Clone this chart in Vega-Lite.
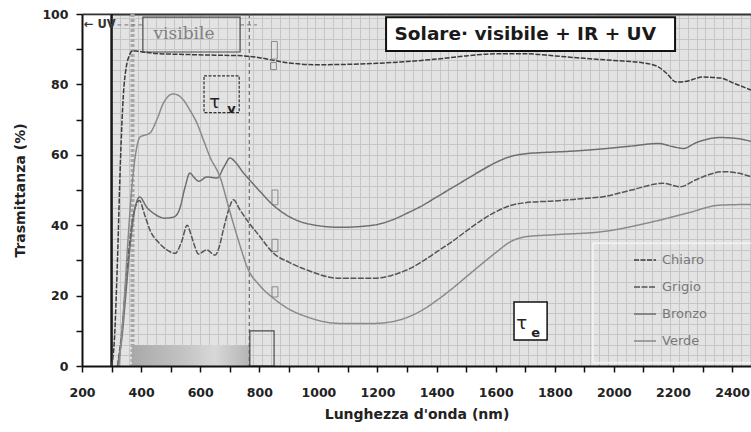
{
  "$schema": "https://vega.github.io/schema/vega-lite/v6.json",
  "width": 669,
  "height": 352,
  "autosize": "none",
  "padding": {"left": 82, "top": 14, "right": 0, "bottom": 66},
  "background": "white",
  "config": {"view": {"fill": "#e3e3e3", "stroke": null}, "font": "DejaVu Sans"},
  "resolve": {"axis": {"x": "independent", "y": "independent"}},
  "datasets": {
    "curves": [
      {"s":"Chiaro","nm":300,"t":0},{"s":"Chiaro","nm":310,"t":8},{"s":"Chiaro","nm":320,"t":30},{"s":"Chiaro","nm":330,"t":58},{"s":"Chiaro","nm":340,"t":77},{"s":"Chiaro","nm":350,"t":85},{"s":"Chiaro","nm":360,"t":88.2},{"s":"Chiaro","nm":372,"t":89.6},{"s":"Chiaro","nm":390,"t":89.4},{"s":"Chiaro","nm":450,"t":88.8},{"s":"Chiaro","nm":550,"t":88.5},{"s":"Chiaro","nm":650,"t":88.3},{"s":"Chiaro","nm":750,"t":88.1},{"s":"Chiaro","nm":800,"t":87.6},{"s":"Chiaro","nm":850,"t":86.8},{"s":"Chiaro","nm":900,"t":86.1},{"s":"Chiaro","nm":1000,"t":85.6},{"s":"Chiaro","nm":1100,"t":85.7},{"s":"Chiaro","nm":1200,"t":86.0},{"s":"Chiaro","nm":1300,"t":86.5},{"s":"Chiaro","nm":1400,"t":87.2},{"s":"Chiaro","nm":1500,"t":88.1},{"s":"Chiaro","nm":1600,"t":88.7},{"s":"Chiaro","nm":1700,"t":88.7},{"s":"Chiaro","nm":1800,"t":88.1},{"s":"Chiaro","nm":1900,"t":87.4},{"s":"Chiaro","nm":2000,"t":86.8},{"s":"Chiaro","nm":2100,"t":86.1},{"s":"Chiaro","nm":2150,"t":85.0},{"s":"Chiaro","nm":2180,"t":83.0},{"s":"Chiaro","nm":2210,"t":80.7},{"s":"Chiaro","nm":2240,"t":80.8},{"s":"Chiaro","nm":2300,"t":82.1},{"s":"Chiaro","nm":2360,"t":81.8},{"s":"Chiaro","nm":2410,"t":80.2},{"s":"Chiaro","nm":2464,"t":78.4},
      {"s":"Grigio","nm":320,"t":0},{"s":"Grigio","nm":335,"t":10},{"s":"Grigio","nm":350,"t":25},{"s":"Grigio","nm":365,"t":38},{"s":"Grigio","nm":380,"t":45},{"s":"Grigio","nm":395,"t":47},{"s":"Grigio","nm":410,"t":43.5},{"s":"Grigio","nm":430,"t":38.6},{"s":"Grigio","nm":460,"t":35},{"s":"Grigio","nm":487,"t":33},{"s":"Grigio","nm":515,"t":32},{"s":"Grigio","nm":537,"t":35.3},{"s":"Grigio","nm":556,"t":40},{"s":"Grigio","nm":570,"t":37},{"s":"Grigio","nm":582,"t":33.9},{"s":"Grigio","nm":594,"t":31.8},{"s":"Grigio","nm":622,"t":33},{"s":"Grigio","nm":650,"t":31.5},{"s":"Grigio","nm":665,"t":34},{"s":"Grigio","nm":678,"t":38.6},{"s":"Grigio","nm":695,"t":44},{"s":"Grigio","nm":712,"t":47.2},{"s":"Grigio","nm":735,"t":44.3},{"s":"Grigio","nm":762,"t":41},{"s":"Grigio","nm":800,"t":37},{"s":"Grigio","nm":847,"t":32.1},{"s":"Grigio","nm":900,"t":29.5},{"s":"Grigio","nm":960,"t":27.3},{"s":"Grigio","nm":1073,"t":24.9},{"s":"Grigio","nm":1186,"t":24.9},{"s":"Grigio","nm":1250,"t":25.8},{"s":"Grigio","nm":1300,"t":27.3},{"s":"Grigio","nm":1350,"t":29.6},{"s":"Grigio","nm":1400,"t":32.4},{"s":"Grigio","nm":1450,"t":35.2},{"s":"Grigio","nm":1500,"t":38.3},{"s":"Grigio","nm":1550,"t":41.3},{"s":"Grigio","nm":1600,"t":43.8},{"s":"Grigio","nm":1650,"t":45.6},{"s":"Grigio","nm":1700,"t":46.4},{"s":"Grigio","nm":1800,"t":46.9},{"s":"Grigio","nm":1900,"t":47.6},{"s":"Grigio","nm":1964,"t":48.1},{"s":"Grigio","nm":2060,"t":50},{"s":"Grigio","nm":2166,"t":51.9},{"s":"Grigio","nm":2224,"t":50.9},{"s":"Grigio","nm":2280,"t":53},{"s":"Grigio","nm":2370,"t":55.2},{"s":"Grigio","nm":2420,"t":54.8},{"s":"Grigio","nm":2464,"t":53.8},
      {"s":"Bronzo","nm":320,"t":0},{"s":"Bronzo","nm":335,"t":8},{"s":"Bronzo","nm":350,"t":22},{"s":"Bronzo","nm":365,"t":36},{"s":"Bronzo","nm":380,"t":45},{"s":"Bronzo","nm":395,"t":48},{"s":"Bronzo","nm":420,"t":45},{"s":"Bronzo","nm":445,"t":43.2},{"s":"Bronzo","nm":480,"t":42},{"s":"Bronzo","nm":510,"t":42.3},{"s":"Bronzo","nm":530,"t":44.5},{"s":"Bronzo","nm":549,"t":50.9},{"s":"Bronzo","nm":565,"t":54.8},{"s":"Bronzo","nm":580,"t":53.5},{"s":"Bronzo","nm":595,"t":52.5},{"s":"Bronzo","nm":623,"t":53.7},{"s":"Bronzo","nm":657,"t":53.4},{"s":"Bronzo","nm":680,"t":56.5},{"s":"Bronzo","nm":701,"t":59.1},{"s":"Bronzo","nm":720,"t":57.8},{"s":"Bronzo","nm":745,"t":55},{"s":"Bronzo","nm":768,"t":52.8},{"s":"Bronzo","nm":800,"t":49.8},{"s":"Bronzo","nm":847,"t":45.7},{"s":"Bronzo","nm":900,"t":42.5},{"s":"Bronzo","nm":960,"t":40.5},{"s":"Bronzo","nm":1073,"t":39.4},{"s":"Bronzo","nm":1185,"t":40},{"s":"Bronzo","nm":1250,"t":41.5},{"s":"Bronzo","nm":1300,"t":43.4},{"s":"Bronzo","nm":1350,"t":45.5},{"s":"Bronzo","nm":1400,"t":48},{"s":"Bronzo","nm":1450,"t":50.5},{"s":"Bronzo","nm":1500,"t":53},{"s":"Bronzo","nm":1550,"t":55.5},{"s":"Bronzo","nm":1600,"t":57.8},{"s":"Bronzo","nm":1650,"t":59.5},{"s":"Bronzo","nm":1700,"t":60.3},{"s":"Bronzo","nm":1750,"t":60.6},{"s":"Bronzo","nm":1851,"t":61.0},{"s":"Bronzo","nm":1950,"t":61.6},{"s":"Bronzo","nm":2050,"t":62.4},{"s":"Bronzo","nm":2150,"t":63.2},{"s":"Bronzo","nm":2200,"t":62.3},{"s":"Bronzo","nm":2235,"t":61.8},{"s":"Bronzo","nm":2280,"t":63.5},{"s":"Bronzo","nm":2359,"t":64.9},{"s":"Bronzo","nm":2420,"t":64.6},{"s":"Bronzo","nm":2464,"t":63.8},
      {"s":"Verde","nm":325,"t":0},{"s":"Verde","nm":340,"t":15},{"s":"Verde","nm":355,"t":35},{"s":"Verde","nm":370,"t":52},{"s":"Verde","nm":385,"t":62},{"s":"Verde","nm":396,"t":65},{"s":"Verde","nm":430,"t":66.2},{"s":"Verde","nm":453,"t":69.9},{"s":"Verde","nm":475,"t":74.6},{"s":"Verde","nm":509,"t":77.3},{"s":"Verde","nm":543,"t":75.6},{"s":"Verde","nm":565,"t":72.7},{"s":"Verde","nm":589,"t":69.0},{"s":"Verde","nm":611,"t":64.2},{"s":"Verde","nm":633,"t":59.4},{"s":"Verde","nm":667,"t":53.7},{"s":"Verde","nm":700,"t":44},{"s":"Verde","nm":730,"t":35.5},{"s":"Verde","nm":762,"t":27.5},{"s":"Verde","nm":800,"t":23},{"s":"Verde","nm":847,"t":19.3},{"s":"Verde","nm":900,"t":16.2},{"s":"Verde","nm":960,"t":14},{"s":"Verde","nm":1073,"t":12.1},{"s":"Verde","nm":1186,"t":12.1},{"s":"Verde","nm":1250,"t":12.6},{"s":"Verde","nm":1300,"t":13.8},{"s":"Verde","nm":1350,"t":15.8},{"s":"Verde","nm":1400,"t":18.6},{"s":"Verde","nm":1450,"t":21.8},{"s":"Verde","nm":1500,"t":25.3},{"s":"Verde","nm":1550,"t":28.8},{"s":"Verde","nm":1600,"t":32.2},{"s":"Verde","nm":1650,"t":35.3},{"s":"Verde","nm":1700,"t":36.7},{"s":"Verde","nm":1800,"t":37.3},{"s":"Verde","nm":1964,"t":38.2},{"s":"Verde","nm":2133,"t":41},{"s":"Verde","nm":2247,"t":43.4},{"s":"Verde","nm":2359,"t":45.7},{"s":"Verde","nm":2464,"t":45.9}
    ]
  },
  "layer": [
    {
      "data": {"values": [{"x": 200, "x2": 300, "y": 0, "y2": 99.6}]},
      "mark": {"type": "rect", "fill": "white"},
      "encoding": {
        "x": {"field": "x", "type": "quantitative", "scale": {"domain": [200, 2464], "nice": false, "zero": false},
          "axis": {"orient": "top", "grid": true, "gridColor": "#c6c6c6", "gridWidth": 1, "labels": false, "ticks": false, "domain": true, "domainColor": "#333", "domainWidth": 2, "title": null, "zindex": 0,
            "values": [300,330,360,390,420,450,480,510,540,570,600,630,660,690,720,750,780,810,840,870,900,930,960,990,1020,1050,1080,1110,1140,1170,1200,1230,1260,1290,1320,1350,1380,1410,1440,1470,1500,1530,1560,1590,1620,1650,1680,1710,1740,1770,1800,1830,1860,1890,1920,1950,1980,2010,2040,2070,2100,2130,2160,2190,2220,2250,2280,2310,2340,2370,2400,2430,2460]}},
        "x2": {"field": "x2"},
        "y": {"field": "y", "type": "quantitative", "scale": {"domain": [0, 100], "nice": false, "zero": false},
          "axis": {"orient": "right", "grid": true, "gridColor": "#c6c6c6", "gridWidth": 1, "labels": false, "ticks": false, "domain": false, "title": null, "zindex": 0,
            "values": [3,6,9,12,15,18,21,24,27,30,33,36,39,42,45,48,51,54,57,60,63,66,69,72,75,78,81,84,87,90,93,96,99]}},
        "y2": {"field": "y2"}
      }
    },
    {
      "data": {"values": [{"x": 369, "x2": 768, "y": 0, "y2": 6}]},
      "mark": {"type": "rect", "fill": {"gradient": "linear", "x1": 0, "y1": 0, "x2": 1, "y2": 0, "stops": [{"offset": 0, "color": "#a9a9a9"}, {"offset": 0.45, "color": "#c4c4c4"}, {"offset": 0.7, "color": "#d8d8d8"}, {"offset": 1, "color": "#b4b4b4"}]}},
      "encoding": {
        "x": {"field": "x", "type": "quantitative", "axis": null, "scale": {"domain": [200, 2464], "nice": false, "zero": false}},
        "x2": {"field": "x2"},
        "y": {"field": "y", "type": "quantitative", "axis": null, "scale": {"domain": [0, 100], "nice": false, "zero": false}},
        "y2": {"field": "y2"}
      }
    },
    {
      "data": {"values": [{"x": 1929, "x2": 2470, "y": 0.9, "y2": 34.9}]},
      "mark": {"type": "rect", "fill": null, "stroke": "#f4f4f4", "strokeWidth": 1.5},
      "encoding": {
        "x": {"field": "x", "type": "quantitative", "axis": null, "scale": {"domain": [200, 2464], "nice": false, "zero": false}},
        "x2": {"field": "x2"},
        "y": {"field": "y", "type": "quantitative", "axis": null, "scale": {"domain": [0, 100], "nice": false, "zero": false}},
        "y2": {"field": "y2"}
      }
    },
    {
      "data": {"values": [{"x": 300}]},
      "mark": {"type": "rule", "color": "#1a1a1a", "strokeWidth": 2.5},
      "encoding": {
        "x": {"field": "x", "type": "quantitative", "axis": null, "scale": {"domain": [200, 2464], "nice": false, "zero": false}}
      }
    },
    {
      "data": {"values": [{"x": 371}]},
      "mark": {"type": "rule", "color": "#a8a8a8", "strokeWidth": 4, "strokeDash": [3, 2]},
      "encoding": {
        "x": {"field": "x", "type": "quantitative", "axis": null, "scale": {"domain": [200, 2464], "nice": false, "zero": false}}
      }
    },
    {
      "data": {"values": [{"x": 766}]},
      "mark": {"type": "rule", "color": "#555", "strokeWidth": 1, "strokeDash": [4, 3]},
      "encoding": {
        "x": {"field": "x", "type": "quantitative", "axis": null, "scale": {"domain": [200, 2464], "nice": false, "zero": false}}
      }
    },
    {
      "data": {"values": [{"x": 296, "x2": 404, "y": 96.9}, {"x": 735, "x2": 792, "y": 96.9}]},
      "mark": {"type": "rule", "color": "#777", "strokeWidth": 1, "strokeDash": [4, 3]},
      "encoding": {
        "x": {"field": "x", "type": "quantitative", "axis": null, "scale": {"domain": [200, 2464], "nice": false, "zero": false}},
        "x2": {"field": "x2"},
        "y": {"field": "y", "type": "quantitative", "axis": null, "scale": {"domain": [0, 100], "nice": false, "zero": false}}
      }
    },
    {
      "data": {"values": [{"x": 406, "x2": 735, "y": 89.2, "y2": 99.1}, {"x": 768, "x2": 850, "y": 0, "y2": 10}]},
      "mark": {"type": "rect", "fill": null, "stroke": "#4a4a4a", "strokeWidth": 1.2},
      "encoding": {
        "x": {"field": "x", "type": "quantitative", "axis": null, "scale": {"domain": [200, 2464], "nice": false, "zero": false}},
        "x2": {"field": "x2"},
        "y": {"field": "y", "type": "quantitative", "axis": null, "scale": {"domain": [0, 100], "nice": false, "zero": false}},
        "y2": {"field": "y2"}
      }
    },
    {
      "data": {"values": [{"x": 613, "x2": 732, "y": 72, "y2": 82.4}]},
      "mark": {"type": "rect", "fill": null, "stroke": "#333", "strokeWidth": 1.2, "strokeDash": [3, 1.5]},
      "encoding": {
        "x": {"field": "x", "type": "quantitative", "axis": null, "scale": {"domain": [200, 2464], "nice": false, "zero": false}},
        "x2": {"field": "x2"},
        "y": {"field": "y", "type": "quantitative", "axis": null, "scale": {"domain": [0, 100], "nice": false, "zero": false}},
        "y2": {"field": "y2"}
      }
    },
    {
      "data": {"values": [{"x": 841, "x2": 861, "y": 87.2, "y2": 92.2}, {"x": 838, "x2": 858, "y": 84.2, "y2": 86.2}, {"x": 843, "x2": 863, "y": 45.8, "y2": 50}, {"x": 843, "x2": 863, "y": 32.5, "y2": 36}, {"x": 843, "x2": 863, "y": 19.6, "y2": 22.5}]},
      "mark": {"type": "rect", "fill": null, "stroke": "#8a8a8a", "strokeWidth": 1},
      "encoding": {
        "x": {"field": "x", "type": "quantitative", "axis": null, "scale": {"domain": [200, 2464], "nice": false, "zero": false}},
        "x2": {"field": "x2"},
        "y": {"field": "y", "type": "quantitative", "axis": null, "scale": {"domain": [0, 100], "nice": false, "zero": false}},
        "y2": {"field": "y2"}
      }
    },
    {
      "data": {"values": [{"x": 1229, "x2": 2207, "y": 89.5, "y2": 99.1}]},
      "mark": {"type": "rect", "fill": "white", "stroke": "#111", "strokeWidth": 2},
      "encoding": {
        "x": {"field": "x", "type": "quantitative", "axis": null, "scale": {"domain": [200, 2464], "nice": false, "zero": false}},
        "x2": {"field": "x2"},
        "y": {"field": "y", "type": "quantitative", "axis": null, "scale": {"domain": [0, 100], "nice": false, "zero": false}},
        "y2": {"field": "y2"}
      }
    },
    {
      "data": {"values": [{"x": 1662, "x2": 1774, "y": 7.4, "y2": 18.2}]},
      "mark": {"type": "rect", "fill": "white", "stroke": "#111", "strokeWidth": 1.5},
      "encoding": {
        "x": {"field": "x", "type": "quantitative", "axis": null, "scale": {"domain": [200, 2464], "nice": false, "zero": false}},
        "x2": {"field": "x2"},
        "y": {"field": "y", "type": "quantitative", "axis": null, "scale": {"domain": [0, 100], "nice": false, "zero": false}},
        "y2": {"field": "y2"}
      }
    },
    {
      "data": {"name": "curves"},
      "mark": {"type": "line", "interpolate": "monotone", "strokeWidth": 1.5},
      "encoding": {
        "x": {"field": "nm", "type": "quantitative", "scale": {"domain": [200, 2464], "nice": false, "zero": false},
          "axis": {"orient": "bottom", "values": [200,300,400,500,600,700,800,900,1000,1100,1200,1300,1400,1500,1600,1700,1800,1900,2000,2100,2200,2300,2400],
            "format": "d", "labelExpr": "datum.value % 200 === 0 ? datum.label : ''", "grid": false, "zindex": 1,
            "domainColor": "#111", "domainWidth": 2, "tickColor": "#111", "tickWidth": 1.5, "tickSize": 6,
            "labelFont": "DejaVu Sans", "labelFontSize": 12.5, "labelFontWeight": "bold", "labelColor": "#222", "labelPadding": 14, "labelFlush": false, "labelOverlap": false,
            "title": "Lunghezza d'onda (nm)", "titleFont": "DejaVu Sans", "titleFontSize": 14, "titleFontWeight": "bold", "titleColor": "#222", "titlePadding": 9}},
        "y": {"field": "t", "type": "quantitative", "scale": {"domain": [0, 100], "nice": false, "zero": false},
          "axis": {"orient": "left", "values": [0,10,20,30,40,50,60,70,80,90,100],
            "format": "d", "labelExpr": "datum.value % 20 === 0 ? datum.label : ''", "grid": false, "zindex": 1,
            "domainColor": "#111", "domainWidth": 2, "tickColor": "#111", "tickWidth": 1.5, "tickSize": 6,
            "labelFont": "DejaVu Sans", "labelFontSize": 12.5, "labelFontWeight": "bold", "labelColor": "#222", "labelPadding": 8, "labelFlush": false, "labelOverlap": false,
            "title": "Trasmittanza (%)", "titleFont": "DejaVu Sans", "titleFontSize": 14, "titleFontWeight": "bold", "titleColor": "#222", "titlePadding": 14}},
        "color": {"field": "s", "type": "nominal",
          "scale": {"domain": ["Chiaro", "Grigio", "Bronzo", "Verde"], "range": ["#3c3c3c", "#555555", "#6e6e6e", "#8a8a8a"]},
          "legend": {"title": null, "orient": "none", "legendX": 551, "legendY": 234, "symbolType": "stroke", "symbolSize": 484, "symbolStrokeWidth": 1.5, "rowPadding": 8, "labelOffset": 5, "padding": 0, "labelFont": "DejaVu Sans", "labelFontSize": 13, "labelColor": "#777"}},
        "strokeDash": {"field": "s", "type": "nominal",
          "scale": {"domain": ["Chiaro", "Grigio", "Bronzo", "Verde"], "range": [[5, 1.5], [6, 1.5], [1, 0], [1, 0]]},
          "legend": {"title": null, "orient": "none", "legendX": 551, "legendY": 234, "symbolType": "stroke", "symbolSize": 484, "symbolStrokeWidth": 1.5, "rowPadding": 8, "labelOffset": 5, "padding": 0, "labelFont": "DejaVu Sans", "labelFontSize": 13, "labelColor": "#777"}}
      }
    },
    {
      "data": {"values": [{"txt": "← UV", "x": 206, "y": 96.9}]},
      "mark": {"type": "text", "align": "left", "baseline": "middle", "font": "DejaVu Sans", "fontSize": 11.5, "fontWeight": "bold", "color": "#333"},
      "encoding": {
        "x": {"field": "x", "type": "quantitative", "axis": null, "scale": {"domain": [200, 2464], "nice": false, "zero": false}},
        "y": {"field": "y", "type": "quantitative", "axis": null, "scale": {"domain": [0, 100], "nice": false, "zero": false}},
        "text": {"field": "txt"}
      }
    },
    {
      "data": {"values": [{"txt": "visibile", "x": 545, "y": 94.2}]},
      "mark": {"type": "text", "align": "center", "baseline": "middle", "font": "DejaVu Serif", "fontSize": 17, "color": "#808080"},
      "encoding": {
        "x": {"field": "x", "type": "quantitative", "axis": null, "scale": {"domain": [200, 2464], "nice": false, "zero": false}},
        "y": {"field": "y", "type": "quantitative", "axis": null, "scale": {"domain": [0, 100], "nice": false, "zero": false}},
        "text": {"field": "txt"}
      }
    },
    {
      "data": {"values": [{"txt": "Solare· visibile + IR + UV", "x": 1700, "y": 94.4}]},
      "mark": {"type": "text", "align": "center", "baseline": "middle", "font": "DejaVu Sans", "fontSize": 18.5, "fontWeight": "bold", "color": "#1a1a1a"},
      "encoding": {
        "x": {"field": "x", "type": "quantitative", "axis": null, "scale": {"domain": [200, 2464], "nice": false, "zero": false}},
        "y": {"field": "y", "type": "quantitative", "axis": null, "scale": {"domain": [0, 100], "nice": false, "zero": false}},
        "text": {"field": "txt"}
      }
    },
    {
      "data": {"values": [{"txt": "τ", "x": 649, "y": 74.6}, {"txt": "τ", "x": 1688, "y": 11.8}]},
      "mark": {"type": "text", "align": "center", "baseline": "middle", "font": "DejaVu Sans", "fontSize": 18, "color": "#222"},
      "encoding": {
        "x": {"field": "x", "type": "quantitative", "axis": null, "scale": {"domain": [200, 2464], "nice": false, "zero": false}},
        "y": {"field": "y", "type": "quantitative", "axis": null, "scale": {"domain": [0, 100], "nice": false, "zero": false}},
        "text": {"field": "txt"}
      }
    },
    {
      "data": {"values": [{"txt": "v", "x": 706, "y": 72.9}, {"txt": "e", "x": 1735, "y": 9.3}]},
      "mark": {"type": "text", "align": "center", "baseline": "middle", "font": "DejaVu Sans", "fontSize": 13, "fontWeight": "bold", "color": "#222"},
      "encoding": {
        "x": {"field": "x", "type": "quantitative", "axis": null, "scale": {"domain": [200, 2464], "nice": false, "zero": false}},
        "y": {"field": "y", "type": "quantitative", "axis": null, "scale": {"domain": [0, 100], "nice": false, "zero": false}},
        "text": {"field": "txt"}
      }
    }
  ]
}
